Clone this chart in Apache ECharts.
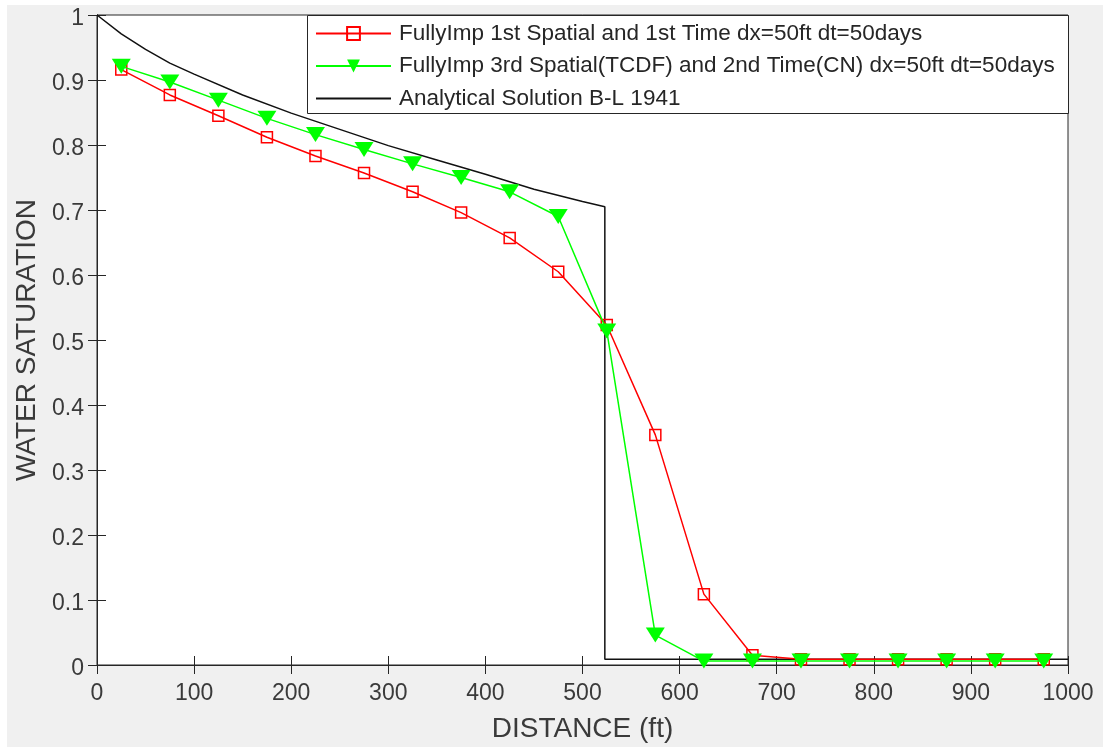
<!DOCTYPE html>
<html>
<head>
<meta charset="utf-8">
<script src="https://cdn.jsdelivr.net/npm/echarts@6/dist/echarts.min.js"></script>
<style>
  html, body { margin: 0; padding: 0; background: #ffffff; }
  #chart { position: absolute; left: 7px; top: 5px; width: 1096px; height: 742px; background: #f0f0f0; }
</style>
</head>
<body>
<div id="chart"></div>
<script>
// Cell-centre positions (ft)
const distance = [25, 75, 125, 175, 225, 275, 325, 375, 425, 475, 525, 575, 625, 675, 725, 775, 825, 875, 925, 975];

// Fully implicit, 1st-order spatial / 1st-order time
const swFirstOrder = [0.916, 0.877, 0.845, 0.812, 0.783, 0.757, 0.728, 0.696, 0.657, 0.605, 0.523, 0.354, 0.109, 0.015, 0.009, 0.009, 0.009, 0.009, 0.009, 0.009];

// Fully implicit, 3rd-order TCDF spatial / Crank-Nicolson time
const swTcdfCn = [0.921, 0.897, 0.869, 0.841, 0.816, 0.793, 0.771, 0.750, 0.728, 0.690, 0.514, 0.046, 0.006, 0.006, 0.006, 0.006, 0.006, 0.006, 0.006, 0.006];

// Buckley-Leverett analytical profile
const analyticX  = [0, 25, 50, 75, 100, 150, 200, 250, 300, 350, 400, 450, 500, 523, 523, 1000];
const analyticSw = [1.0, 0.971, 0.947, 0.926, 0.909, 0.877, 0.849, 0.824, 0.799, 0.777, 0.755, 0.732, 0.713, 0.705, 0.009, 0.009];

const xTicks = [0, 100, 200, 300, 400, 500, 600, 700, 800, 900, 1000];
const yTicks = [0, 0.1, 0.2, 0.3, 0.4, 0.5, 0.6, 0.7, 0.8, 0.9, 1];

const seriesNames = [
  'FullyImp 1st Spatial and 1st Time dx=50ft dt=50days',
  'FullyImp 3rd Spatial(TCDF) and 2nd Time(CN) dx=50ft dt=50days',
  'Analytical Solution B-L 1941'
];

const axisColor = '#262626';
const labelColor = '#3a3a3a';
const font = 'Liberation Sans, Arial, Helvetica, sans-serif';

function pairs(xs, ys) { return xs.map((x, i) => [x, ys[i]]); }

const chart = echarts.init(document.getElementById('chart'), null, { renderer: 'canvas' });

const tickStyle = { inside: true, length: 9, lineStyle: { color: axisColor, width: 1 } };

chart.setOption({
  animation: false,
  backgroundColor: '#f0f0f0',
  textStyle: { fontFamily: font },
  grid: {
    left: 90, right: 35, top: 10, bottom: 82,
    outerBoundsMode: 'none', containLabel: false,
    show: true, backgroundColor: '#ffffff', borderColor: axisColor, borderWidth: 1
  },
  xAxis: [{
    type: 'value', min: xTicks[0], max: xTicks[xTicks.length - 1], interval: 100,
    position: 'bottom',
    name: 'DISTANCE (ft)', nameLocation: 'middle', nameGap: 50,
    nameTextStyle: { color: labelColor, fontSize: 28, fontFamily: font },
    axisLine: { show: true, lineStyle: { color: axisColor, width: 1 } },
    axisTick: tickStyle,
    axisLabel: { color: labelColor, fontSize: 23, margin: 17, fontFamily: font, formatter: v => String(v) },
    splitLine: { show: false }
  }, {
    type: 'value', min: xTicks[0], max: xTicks[xTicks.length - 1], interval: 100,
    position: 'top',
    axisLine: { show: true, lineStyle: { color: axisColor, width: 1 } },
    axisTick: tickStyle,
    axisLabel: { show: false },
    splitLine: { show: false }
  }],
  yAxis: [{
    type: 'value', min: yTicks[0], max: yTicks[yTicks.length - 1], interval: 0.1,
    position: 'left',
    name: 'WATER SATURATION', nameLocation: 'middle', nameGap: 56,
    nameTextStyle: { color: labelColor, fontSize: 28, fontFamily: font },
    axisLine: { show: true, lineStyle: { color: axisColor, width: 1 } },
    axisTick: tickStyle,
    axisLabel: { color: labelColor, fontSize: 23, margin: 13, fontFamily: font, verticalAlign: 'top', lineHeight: 8 },
    splitLine: { show: false }
  }, {
    type: 'value', min: yTicks[0], max: yTicks[yTicks.length - 1], interval: 0.1,
    position: 'right',
    axisLine: { show: true, lineStyle: { color: axisColor, width: 1 } },
    axisTick: tickStyle,
    axisLabel: { show: false },
    splitLine: { show: false }
  }],
  graphic: [{
    type: 'rect', left: 300, top: 10, z: 50,
    shape: { width: 761, height: 98 },
    style: { fill: '#ffffff', stroke: axisColor, lineWidth: 1 }
  }],
  legend: {
    orient: 'vertical', left: 308, top: 17, z: 60,
    padding: 0, itemGap: 9.5, itemWidth: 75, itemHeight: 16,
    data: seriesNames,
    textStyle: { color: '#262626', fontSize: 22.5, lineHeight: 22, fontFamily: font, padding: [0, 0, 0, 3] }
  },
  series: [{
    name: seriesNames[2], type: 'line', xAxisIndex: 0, yAxisIndex: 0,
    data: pairs(analyticX, analyticSw),
    showSymbol: false, symbol: 'circle', symbolSize: 0,
    lineStyle: { color: '#111111', width: 1.5 },
    itemStyle: { color: 'rgba(0,0,0,0)', borderWidth: 0 },
    z: 2
  }, {
    name: seriesNames[0], type: 'line', xAxisIndex: 0, yAxisIndex: 0,
    data: pairs(distance, swFirstOrder),
    symbol: 'rect', symbolSize: 11, showAllSymbol: true,
    lineStyle: { color: '#ff0000', width: 1.5 },
    itemStyle: { color: 'rgba(255,255,255,0)', borderColor: '#ff0000', borderWidth: 1.5 },
    z: 3
  }, {
    name: seriesNames[1], type: 'line', xAxisIndex: 0, yAxisIndex: 0,
    data: pairs(distance, swTcdfCn),
    symbol: 'triangle', symbolRotate: 180, symbolSize: [19, 15], showAllSymbol: true,
    lineStyle: { color: '#00ff00', width: 1.5 },
    itemStyle: { color: '#00ff00', borderColor: '#00ff00', borderWidth: 0 },
    z: 4
  }]
});
</script>
</body>
</html>
